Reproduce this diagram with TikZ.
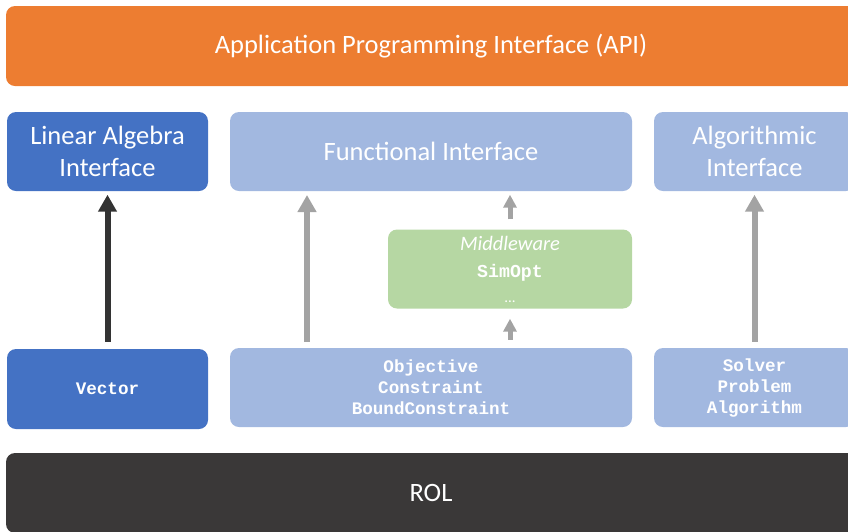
\documentclass[tikz,border=0pt]{standalone}
\usepackage{fontspec}
\setmainfont{Carlito}
\setmonofont{Liberation Mono}
\usepackage{tikz}
\usetikzlibrary{arrows.meta}

\definecolor{apiorange}{HTML}{ED7D31}
\definecolor{darkblue}{HTML}{4472C4}
\definecolor{lightblue}{HTML}{A2B8E0}
\definecolor{midgreen}{HTML}{B6D7A3}
\definecolor{roldark}{HTML}{3A3838}
\definecolor{arrowgray}{HTML}{A3A3A3}
\definecolor{arrowdark}{HTML}{333333}

\tikzset{
  layer/.style={rectangle, rounded corners=9pt, text=white, align=center,
    inner sep=0pt, minimum height=79pt},
  big/.style={font=\fontsize{26.5}{32}\selectfont},
  head/.style={font=\fontsize{26.5}{31.5}\selectfont},
  code/.style={font=\ttfamily\bfseries\fontsize{17.6}{21}\selectfont},
  longarrow/.style={line width=6pt, -{Triangle[width=18pt,length=17pt]}},
  shortarrow/.style={line width=5pt, arrowgray, -{Triangle[width=13pt,length=13pt]}}
}

\begin{document}
\begin{tikzpicture}[x=1pt,y=-1pt]
                \useasboundingbox (0,0) rectangle (848,531);
                \clip (0,0) rectangle (848,531);

                % Top and bottom bars
                \node[layer, big, fill=apiorange, minimum width=850pt, minimum height=80pt] (api) at (431,46)
                    {Application Programming Interface (API)};
                \node[layer, big, fill=roldark, minimum width=850pt, minimum height=80pt] (rol) at (431,493) {ROL};

                % Interfaces
                \node[layer, head, fill=darkblue, minimum width=201pt] (linalg) at (107.5,151.5)
                    {Linear Algebra\\Interface};
                \node[layer, head, fill=lightblue, minimum width=402pt] (func) at (431,151.5)
                    {Functional Interface};
                \node[layer, head, fill=lightblue, minimum width=201pt] (algo) at (754.5,151.5)
                    {Algorithmic\\Interface};

                % Middleware
                \node[layer, fill=midgreen, minimum width=244pt, font=\fontsize{20.5}{29}\selectfont] (mid) at (510,269)
                    {\itshape Middleware\\[-2pt]
                     {\ttfamily\bfseries\fontsize{18.2}{20}\selectfont SimOpt}\\[-4pt]
                     {\fontsize{15}{20}\selectfont ...}};

                % Classes
                \node[layer, code, fill=darkblue, minimum width=201pt, minimum height=80pt] (vec) at (107.5,389)
                    {Vector};
                \node[layer, code, fill=lightblue, minimum width=402pt] (obj) at (431,387.5)
                    {Objective\\Constraint\\BoundConstraint};
                \node[layer, code, fill=lightblue, minimum width=201pt] (solv) at (754.5,387.5)
                    {Solver\\Problem\\Algorithm};

                % Arrow ends
                \coordinate (fbot) at (307,342);
                \coordinate (ftop) at (307,195);

                % Arrows
                \draw[longarrow, arrowdark, shorten <=7pt, shorten >=3.5pt] (vec) -- (linalg);
                \draw[longarrow, arrowgray] (fbot) -- (ftop);
                \draw[longarrow, arrowgray, shorten <=6pt, shorten >=3.5pt] (solv) -- (algo);
                \draw[shortarrow, shorten <=10pt, shorten >=3.5pt] (mid.north) -- (mid.north |- func.south);
                \draw[shortarrow, shorten <=8pt, shorten >=10pt] (mid.south |- obj.north) -- (mid.south);
            \end{tikzpicture}
\end{document}
